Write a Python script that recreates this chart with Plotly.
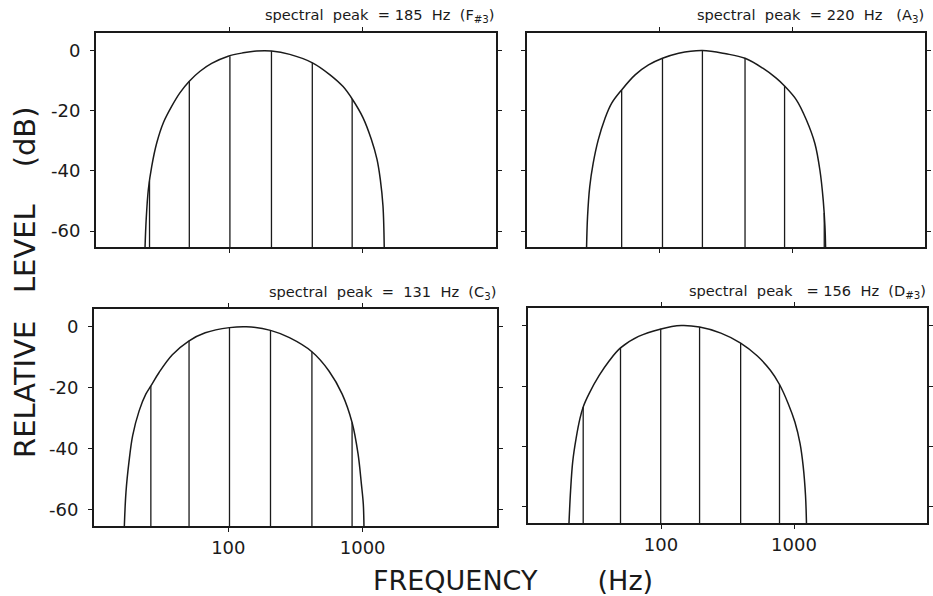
import plotly.graph_objects as go

# ---------------- data ----------------
panel_titles = [
    "spectral\u00a0 peak\u00a0 =\u00a0185\u00a0 Hz\u00a0 (F<sub>#3</sub>)",
    "spectral\u00a0 peak\u00a0 =\u00a0220\u00a0 Hz\u00a0\u00a0 (A<sub>3</sub>)",
    "spectral\u00a0 peak\u00a0 =\u00a0 131\u00a0 Hz\u00a0 (C<sub>3</sub>)",
    "spectral\u00a0 peak\u00a0 \u00a0=\u00a0156\u00a0 Hz\u00a0 (D<sub>#3</sub>)",
]

# spectral envelopes (Hz, dB)
env_185_hz = [23.3, 23.8, 24.7, 26.2, 28.6, 32.0, 37.0, 42.7, 50.1, 60.3, 73.7, 98, 127, 160,
              207, 284, 420, 566, 713, 837, 1005, 1161, 1280, 1356, 1420, 1452]
env_185_db = [-66, -56.0, -46.1, -38.4, -30.6, -24.0, -18.5, -14.0, -10.2, -6.9, -4.3, -1.9, -0.8, -0.2,
              -0.2, -1.3, -4.1, -8.0, -12.0, -16.2, -22.3, -29.5, -36.1, -42.8, -51.6, -66]

env_220_hz = [28.1, 28.6, 29.7, 31.5, 34.4, 38.7, 43.4, 51.7, 65.3, 82.4, 105, 139, 210, 316,
              440, 599, 756, 874, 1072, 1277, 1479, 1614, 1710, 1762, 1782]
env_220_db = [-66, -55.3, -45.3, -37.6, -29.8, -22.6, -17.6, -13.1, -8.1, -4.8, -2.6, -0.9, 0, -1.1,
              -2.6, -5.9, -9.2, -11.8, -16.4, -23.1, -30.9, -39.8, -49.8, -58.7, -66]

env_131_hz = [16.8, 17.3, 18.2, 19.4, 21.7, 24.3, 26.5, 30.5, 38.3, 50.7, 67.3, 102, 136,
              206, 285, 419, 561, 704, 834, 924, 978, 1011, 1023]
env_131_db = [-66, -54.2, -44.4, -35.7, -27.5, -22.1, -19.4, -15.0, -9.2, -4.7, -2.0, -0.3, 0,
              -1.2, -3.6, -8.2, -14.5, -22.1, -31.4, -41.7, -51.5, -58.1, -66]

env_156_hz = [20.3, 20.9, 21.7, 23.0, 24.6, 26.0, 28.8, 34.3, 40.6, 49.6, 67.8, 98.4, 142,
              195, 282, 397, 528, 664, 778, 908, 1017, 1109, 1172, 1221, 1242]
env_156_db = [-66, -54.6, -44.9, -37.3, -30.7, -26.9, -22.5, -16.5, -11.8, -7.4, -3.6, -1.2, 0,
              -0.5, -2.5, -5.8, -10.0, -14.8, -19.5, -26.0, -32.0, -38.9, -46.5, -56.3, -66]

# tone components (Hz, dB)
comp_185_hz = [25.2, 50.1, 101, 207, 419, 834]
comp_185_db = [-43.5, -10.2, -1.9, -0.2, -4.1, -16.1]
comp_220_hz = [51.7, 105, 210, 440, 874, 1740]
comp_220_db = [-13.1, -2.6, 0, -2.6, -11.8, -54]
comp_131_hz = [26.5, 51.0, 102, 206, 419, 834]
comp_131_db = [-19.4, -4.6, -0.3, -1.2, -8.2, -31.4]
comp_156_hz = [26.0, 49.6, 99.5, 195, 397, 778]
comp_156_db = [-26.9, -7.4, -1.1, -0.5, -5.8, -19.5]

y_tick_vals = [0, -20, -40, -60]
y_tick_text = ["0", "-20", "-40", "-60"]
x_tick_vals = [100, 1000]
x_tick_text = ["100", "1000"]

# ---------------- layout helpers ----------------
W, H = 933, 596
Y_MIN, Y_MAX = -65.3, 5.8
INK = "#1a1a1a"
FONT = "DejaVu Sans"

# panel boxes in pixels: (left, right, top, bottom)
boxes = [(96, 496, 33, 247), (527, 925, 33, 247), (94, 497, 309, 526), (528, 927, 308, 523)]
envs = [(env_185_hz, env_185_db), (env_220_hz, env_220_db),
        (env_131_hz, env_131_db), (env_156_hz, env_156_db)]
comps = [(comp_185_hz, comp_185_db), (comp_220_hz, comp_220_db),
         (comp_131_hz, comp_131_db), (comp_156_hz, comp_156_db)]

fig = go.Figure()
annotations = []
for i in range(4):
    xa = "x" if i == 0 else f"x{i+1}"
    ya = "y" if i == 0 else f"y{i+1}"
    hz, db = envs[i]
    fig.add_trace(go.Scatter(x=hz, y=db, mode="lines", xaxis=xa, yaxis=ya,
                             line=dict(color=INK, width=1.5, shape="spline", smoothing=1.0),
                             hoverinfo="skip", showlegend=False))
    ch, cd = comps[i]
    xs, ys = [], []
    for f, d in zip(ch, cd):
        xs += [f, f, None]
        ys += [Y_MIN, d, None]
    fig.add_trace(go.Scatter(x=xs, y=ys, mode="lines", xaxis=xa, yaxis=ya,
                             line=dict(color=INK, width=1.3),
                             hoverinfo="skip", showlegend=False))

    l, r, t, b = boxes[i]
    left_col = i in (0, 2)
    bottom_row = i in (2, 3)
    xkey = "xaxis" if i == 0 else f"xaxis{i+1}"
    ykey = "yaxis" if i == 0 else f"yaxis{i+1}"
    fig.update_layout(**{
        xkey: dict(type="log", range=[1, 4], domain=[l / W, r / W], anchor=ya,
                   showline=True, linecolor=INK, linewidth=2, mirror="ticks",
                   ticks="outside", ticklen=4, tickwidth=1.2, tickcolor=INK,
                   tickvals=x_tick_vals, ticktext=x_tick_text,
                   showticklabels=bottom_row, showgrid=False, zeroline=False,
                   tickfont=dict(family=FONT, size=18, color=INK)),
        ykey: dict(range=[Y_MIN, Y_MAX], domain=[1 - b / H, 1 - t / H], anchor=xa,
                   showline=True, linecolor=INK, linewidth=2, mirror="ticks",
                   ticks="outside", ticklen=4, tickwidth=1.2, tickcolor=INK,
                   tickvals=y_tick_vals, ticktext=y_tick_text,
                   showticklabels=left_col, showgrid=False, zeroline=False,
                   ticklabelstandoff=6,
                   tickfont=dict(family=FONT, size=18, color=INK)),
    })
    annotations.append(dict(text=panel_titles[i], xref="paper", yref="paper",
                            x=(r + 1) / W, xanchor="right",
                            y=1 - (t - 17) / H, yanchor="middle", showarrow=False,
                            font=dict(family=FONT, size=14.6, color=INK)))

annotations.append(dict(text="FREQUENCY" + "\u00a0" * 7 + "(Hz)", xref="paper", yref="paper",
                        x=513 / W, xanchor="center", y=1 - 580 / H, yanchor="middle",
                        showarrow=False, font=dict(family=FONT, size=27, color=INK)))
annotations.append(dict(text="RELATIVE\u00a0\u00a0 LEVEL\u00a0\u00a0\u00a0 (dB)", xref="paper", yref="paper",
                        x=25 / W, xanchor="center", y=1 - 282 / H, yanchor="middle",
                        textangle=-90, showarrow=False,
                        font=dict(family=FONT, size=29, color=INK)))

fig.update_layout(width=W, height=H, margin=dict(l=0, r=0, t=0, b=0),
                  paper_bgcolor="white", plot_bgcolor="white",
                  annotations=annotations, showlegend=False)

fig.write_html("out.html")
